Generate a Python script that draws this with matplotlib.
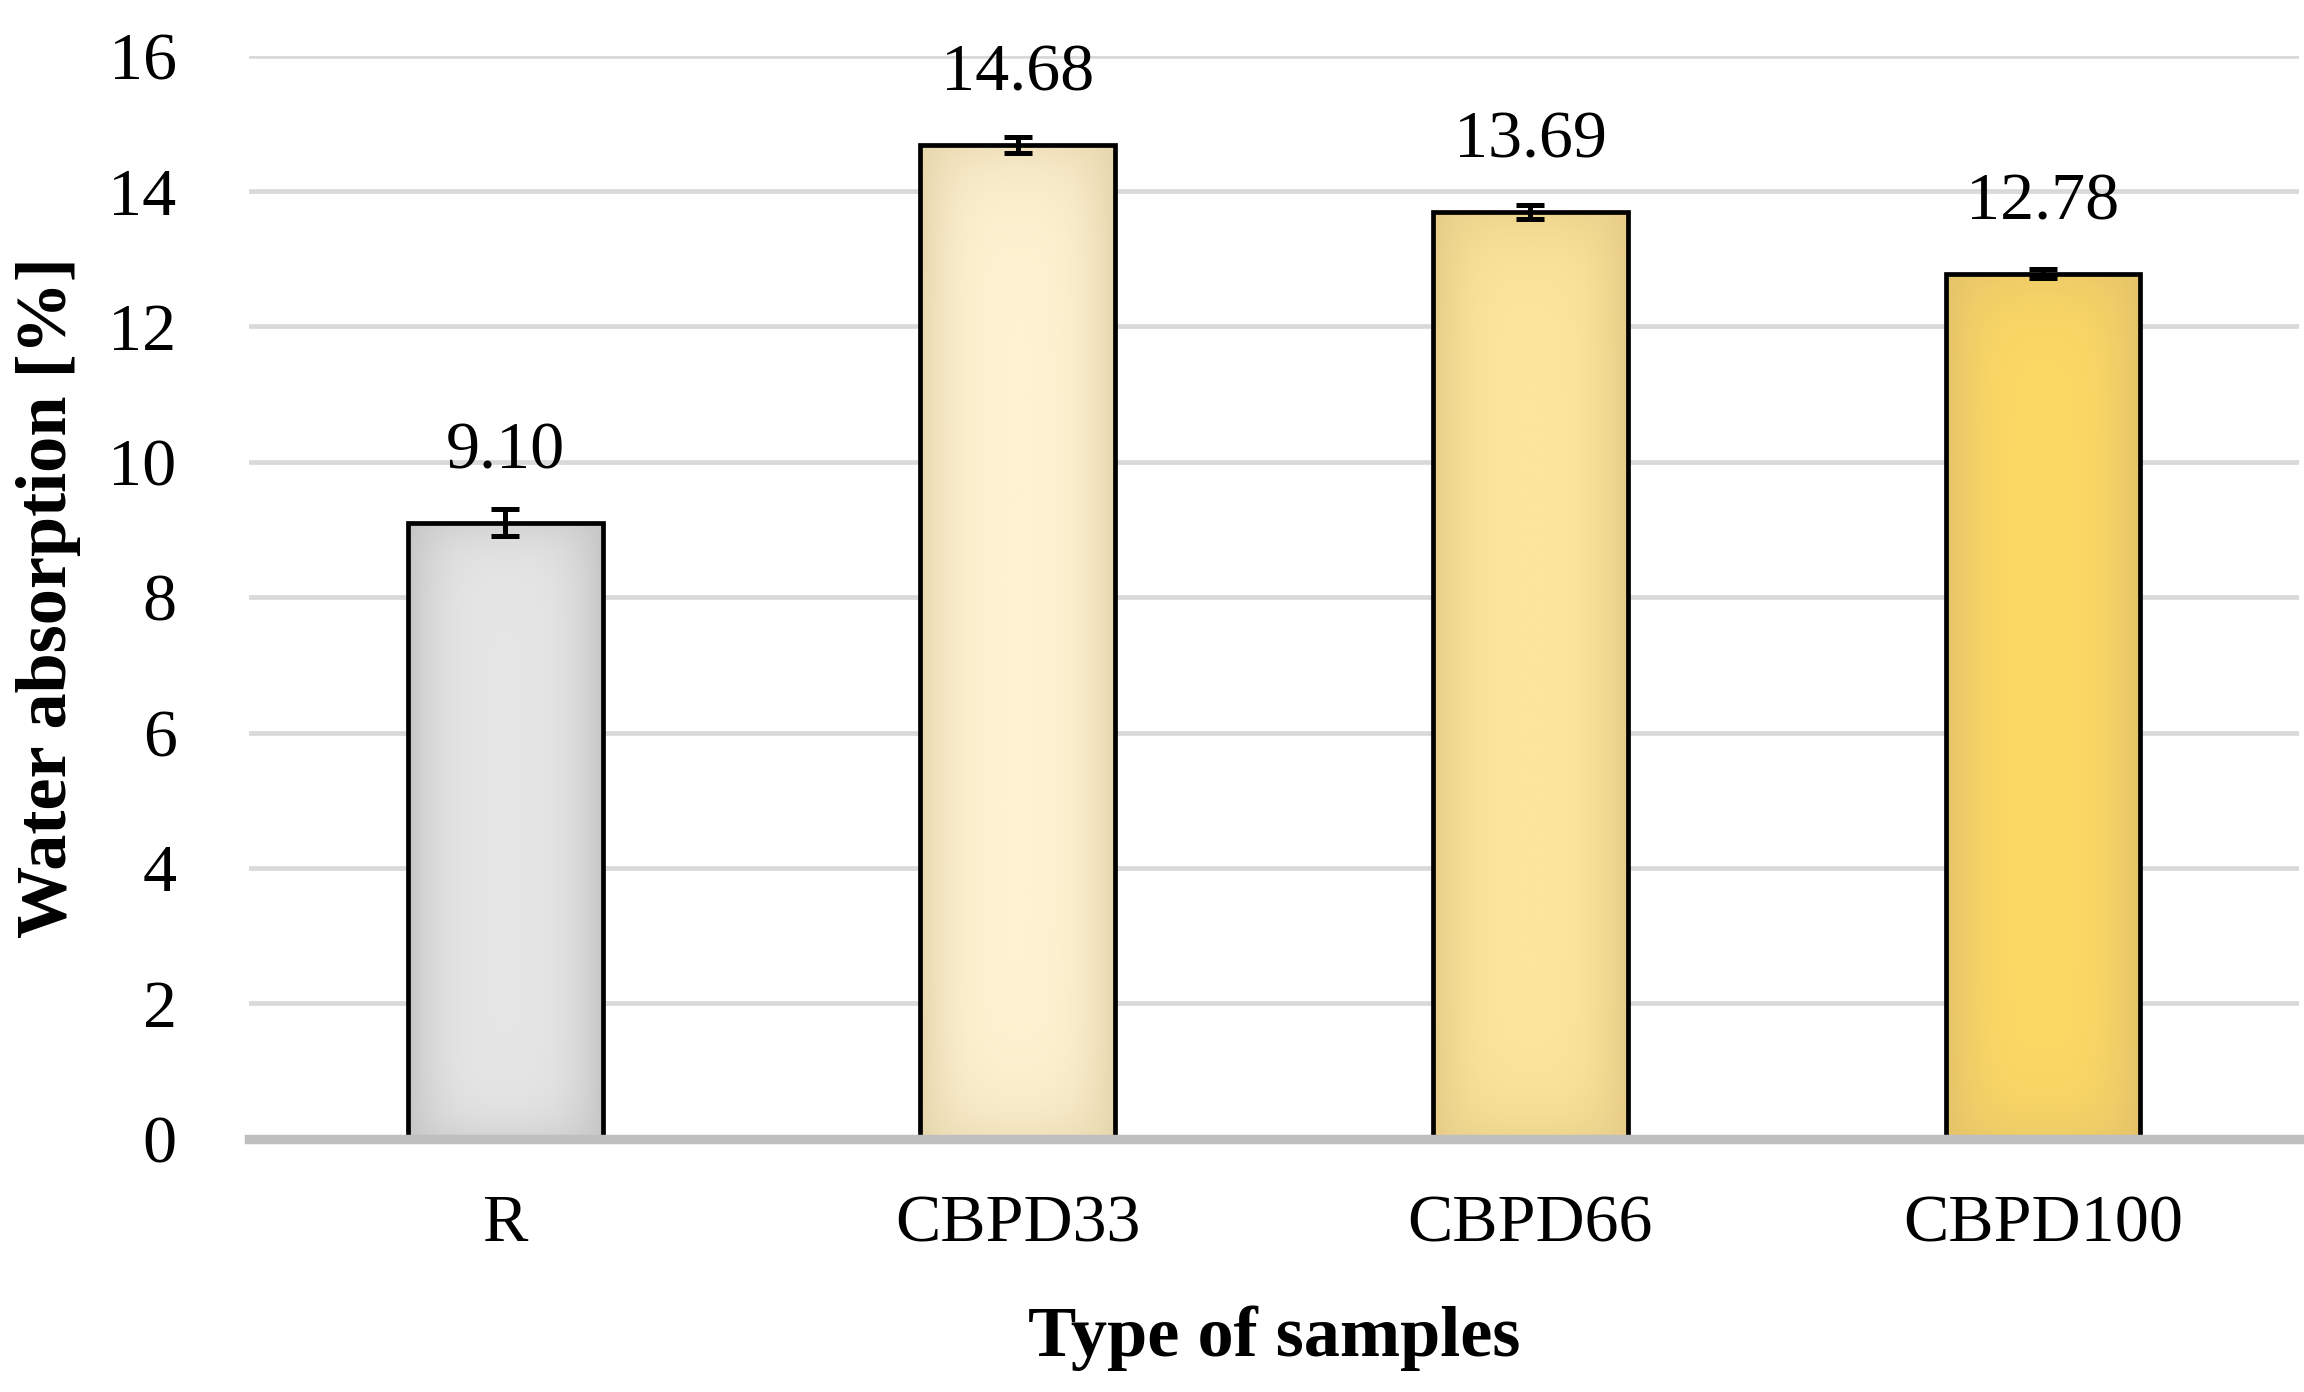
import numpy as np
import matplotlib
matplotlib.use("Agg")
import matplotlib.pyplot as plt
from matplotlib.colors import LinearSegmentedColormap

# Data
samples = ["R", "CBPD33", "CBPD66", "CBPD100"]
water_absorption = [9.10, 14.68, 13.69, 12.78]
errors = [0.20, 0.12, 0.10, 0.07]
labels = ["9.10", "14.68", "13.69", "12.78"]

# bar colours: (centre, edge) for the soft shading
bar_colors = [("#E6E6E6", "#C6C6C6"),
              ("#FEF2D2", "#E6D6AC"),
              ("#FDE59D", "#E6CC86"),
              ("#FCD864", "#E4C36A")]

plt.rcParams['font.family'] = ['Liberation Serif', 'DejaVu Serif']

fig = plt.figure(figsize=(11.52, 6.96), dpi=200)
ax = fig.add_axes([0.108, 0.182, 0.89, 0.778])

x = np.arange(len(samples))
width = 0.38
bars = ax.bar(x, water_absorption, width=width, color="none",
              edgecolor="black", linewidth=1.7, zorder=3)

# fill every bar with a soft gradient, darker at the sides
gx = np.abs(np.linspace(-1, 1, 200)) ** 3
gy = np.abs(np.linspace(-1, 1, 300)) ** 12
shade = 1 - np.outer(1 - 0.6 * gy, 1 - gx)
for b, (c_mid, c_edge) in zip(bars, bar_colors):
    cmap = LinearSegmentedColormap.from_list("g", [c_mid, c_edge])
    x0, y0 = b.get_x(), b.get_y()
    w, h = b.get_width(), b.get_height()
    img = ax.imshow(shade, cmap=cmap, aspect="auto",
                    extent=[x0, x0 + w, y0, y0 + h], zorder=2,
                    interpolation="bicubic", vmin=0, vmax=1)
    img.set_clip_path(b)

ax.errorbar(x, water_absorption, yerr=errors, fmt="none", ecolor="black",
            elinewidth=1.8, capsize=5, capthick=1.8, zorder=4)

for xi, v, lab in zip(x, water_absorption, labels):
    ax.text(xi, v + 0.6, lab, ha="center", va="bottom", fontsize=24.5)

ax.set_xlim(-0.5, 3.5)
ax.set_ylim(0, 16)
ax.set_yticks(range(0, 17, 2))
ax.set_xticks(x)
ax.set_xticklabels(samples)
ax.tick_params(axis="both", length=0, labelsize=24.5)
ax.tick_params(axis="x", pad=20)
ax.tick_params(axis="y", pad=26)

ax.grid(axis="y", color="#D9D9D9", linewidth=1.7, zorder=0)
ax.set_axisbelow(True)
for s in ["top", "right", "left"]:
    ax.spines[s].set_visible(False)
ax.spines["bottom"].set_color("#BFBFBF")
ax.spines["bottom"].set_linewidth(3.4)
ax.spines["bottom"].set_zorder(5)

ax.set_xlabel("Type of samples", fontsize=26, fontweight="bold", labelpad=18)
ax.set_ylabel("Water absorption [%]", fontsize=26, fontweight="bold", labelpad=10)

fig.savefig("out.png", dpi=200, facecolor="white")
